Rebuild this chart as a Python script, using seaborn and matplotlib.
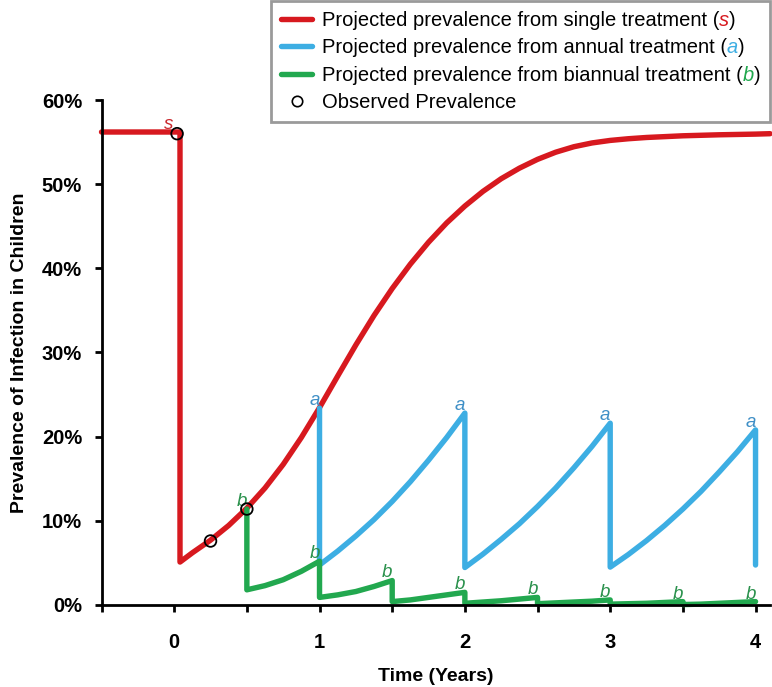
import matplotlib
matplotlib.use("Agg")
import matplotlib.pyplot as plt
import seaborn as sns
from matplotlib.lines import Line2D
from matplotlib.offsetbox import TextArea, HPacker


# ==================================
# DATA
# ==================================

# single treatment (s)
single_x = [-0.5, 0.04, 0.04, 0.125, 0.25, 0.375, 0.5, 0.625, 0.75, 0.875,
            1.0, 1.125, 1.25, 1.375, 1.5, 1.625, 1.75, 1.875, 2.0,
            2.125, 2.25, 2.375, 2.5, 2.625, 2.75, 2.875, 3.0,
            3.125, 3.25, 3.5, 3.75, 4.0, 4.1]
single_y = [56.2, 56.2, 5.1, 6.2, 7.7, 9.45, 11.5, 13.9, 16.7, 19.9,
            23.45, 27.2, 30.9, 34.4, 37.6, 40.5, 43.1, 45.4, 47.4,
            49.15, 50.65, 51.9, 52.95, 53.8, 54.45, 54.9, 55.2,
            55.4, 55.55, 55.75, 55.87, 55.95, 56.0]

# annual treatment (a)
annual_x = [1.0, 1.0, 1.125, 1.25, 1.375, 1.5, 1.625, 1.75, 1.875,
            2.0, 2.0, 2.125, 2.25, 2.375, 2.5, 2.625, 2.75, 2.875,
            3.0, 3.0, 3.125, 3.25, 3.375, 3.5, 3.625, 3.75, 3.875,
            4.0, 4.0]
annual_y = [23.4, 4.75, 6.4, 8.2, 10.15, 12.3, 14.65, 17.2, 19.9,
            22.8, 4.45, 6.05, 7.8, 9.65, 11.7, 13.9, 16.3, 18.85,
            21.6, 4.5, 6.0, 7.65, 9.45, 11.4, 13.5, 15.8, 18.2,
            20.8, 4.75]

# biannual treatment (b)
biannual_x = [0.5, 0.5, 0.625, 0.75, 0.875,
              1.0, 1.0, 1.125, 1.25, 1.375,
              1.5, 1.5, 1.625, 1.75, 1.875,
              2.0, 2.0, 2.125, 2.25, 2.375,
              2.5, 2.5, 2.625, 2.75, 2.875,
              3.0, 3.0, 3.125, 3.25, 3.375,
              3.5, 3.5, 3.625, 3.75, 3.875, 4.0]
biannual_y = [11.4, 1.8, 2.3, 3.0, 4.0,
              5.2, 0.9, 1.2, 1.6, 2.2,
              2.9, 0.4, 0.6, 0.9, 1.2,
              1.5, 0.2, 0.35, 0.5, 0.7,
              0.9, 0.15, 0.25, 0.35, 0.45,
              0.6, 0.1, 0.15, 0.2, 0.3,
              0.4, 0.05, 0.1, 0.2, 0.3, 0.4]

# observed prevalence
observed_x = [0.02, 0.25, 0.5]
observed_y = [56.0, 7.6, 11.4]

# where the letters sit (treatment times)
single_marks = [0.0]
annual_marks = [1.0, 2.0, 3.0, 4.0]
biannual_marks = [0.5, 1.0, 1.5, 2.0, 2.5, 3.0, 3.5, 4.0]

y_ticks = [0, 10, 20, 30, 40, 50, 60]
x_ticks = [-0.5, 0, 0.5, 1, 1.5, 2, 2.5, 3, 3.5, 4]

RED = "#d7191f"
BLUE = "#3daee3"
GREEN = "#22a84f"


# ==================================
# STYLE
# ==================================

sns.set_style("white")
plt.rcParams["font.family"] = ["Liberation Sans", "DejaVu Sans"]
plt.rcParams["text.color"] = "black"
plt.rcParams["axes.labelcolor"] = "black"

fig = plt.figure(figsize=(7.72, 6.87), dpi=100)
ax = fig.add_axes([0.1315, 0.1194, 0.866, 0.735])


# ==================================
# LINES
# ==================================

for xs, ys, c in [(single_x, single_y, RED),
                  (annual_x, annual_y, BLUE),
                  (biannual_x, biannual_y, GREEN)]:
    sns.lineplot(x=xs, y=ys, sort=False, estimator=None,
                 color=c, linewidth=3.9, ax=ax)

for ln in ax.lines:
    ln.set_clip_on(False)
    ln.set_solid_joinstyle("round")

sns.scatterplot(x=observed_x, y=observed_y, marker="o", s=70,
                facecolor="none", edgecolor="black", linewidth=1.3,
                zorder=5, clip_on=False, ax=ax)


# letters over each treatment point
def peak_at(xs, ys, x0):
    near = [y for x, y in zip(xs, ys) if abs(x - x0) < 0.05]
    return max(near)


for marks, xs, ys, letter, c in [
        (single_marks, single_x, single_y, "s", "#c9272c"),
        (annual_marks, annual_x, annual_y, "a", "#3f8fc6"),
        (biannual_marks, biannual_x, biannual_y, "b", "#2a914c")]:
    for m in marks:
        ax.text(m - 0.035, peak_at(xs, ys, m) + 0.9, letter,
                color=c, fontsize=13.5, style="italic", ha="center", va="center")


# ==================================
# AXES
# ==================================

ax.set_xlim(-0.5, 4.1)
ax.set_ylim(0, 60)
ax.set_xticks(x_ticks)
ax.set_xticklabels([str(int(t)) if float(t).is_integer() else "" for t in x_ticks])
ax.set_yticks(y_ticks)
ax.set_yticklabels([f"{t}%" for t in y_ticks])

for lab in ax.get_xticklabels() + ax.get_yticklabels():
    lab.set_fontweight("bold")
    lab.set_fontsize(14.5)

ax.tick_params(axis="x", direction="out", length=5, width=2, pad=15, colors="black")
ax.tick_params(axis="y", direction="out", length=5, width=2, pad=9, colors="black")
ax.tick_params(left=True, bottom=True)

sns.despine(ax=ax)
for s in ["left", "bottom"]:
    ax.spines[s].set_linewidth(2)
    ax.spines[s].set_color("black")

ax.set_xlabel("Time (Years)", fontsize=14, fontweight="bold", labelpad=12)
ax.set_ylabel("Prevalence of Infection in Children", fontsize=14,
              fontweight="bold", labelpad=10)


# ==================================
# LEGEND
# ==================================

handles = [Line2D([], [], color=RED, lw=3.9),
           Line2D([], [], color=BLUE, lw=3.9),
           Line2D([], [], color=GREEN, lw=3.9),
           Line2D([], [], marker="o", ls="none", mfc="none", mec="black", ms=7.5, mew=1.2)]
labels = ["Projected prevalence from single treatment (s)",
          "Projected prevalence from annual treatment (a)",
          "Projected prevalence from biannual treatment (b)",
          "Observed Prevalence"]

FS = 14.5
leg = ax.legend(handles, labels, loc="upper right",
                bbox_to_anchor=(0.998, 0.998), bbox_transform=fig.transFigure,
                fontsize=FS, frameon=True, fancybox=False, framealpha=1,
                edgecolor="#9a9a9a", handlelength=1.5, handletextpad=0.5,
                labelspacing=0.4, borderpad=0.5, borderaxespad=0)
leg.get_frame().set_linewidth(2)
for t in leg.get_texts():
    t.set_color("black")

# colour the letter in brackets
parts = [("Projected prevalence from single treatment (", "s", RED),
         ("Projected prevalence from annual treatment (", "a", BLUE),
         ("Projected prevalence from biannual treatment (", "b", GREEN)]
column = leg._legend_handle_box.get_children()[0]
for item, (pre, letter, c) in zip(column.get_children()[:3], parts):
    kids = item.get_children()
    tp = dict(fontsize=FS, color="black")
    kids[1] = HPacker(children=[TextArea(pre, textprops=tp),
                                TextArea(letter, textprops=dict(tp, color=c, style="italic")),
                                TextArea(")", textprops=tp)],
                      pad=0, sep=0, align="baseline")
leg._legend_box.set_figure(fig)

fig.savefig("out.png", dpi=100)
